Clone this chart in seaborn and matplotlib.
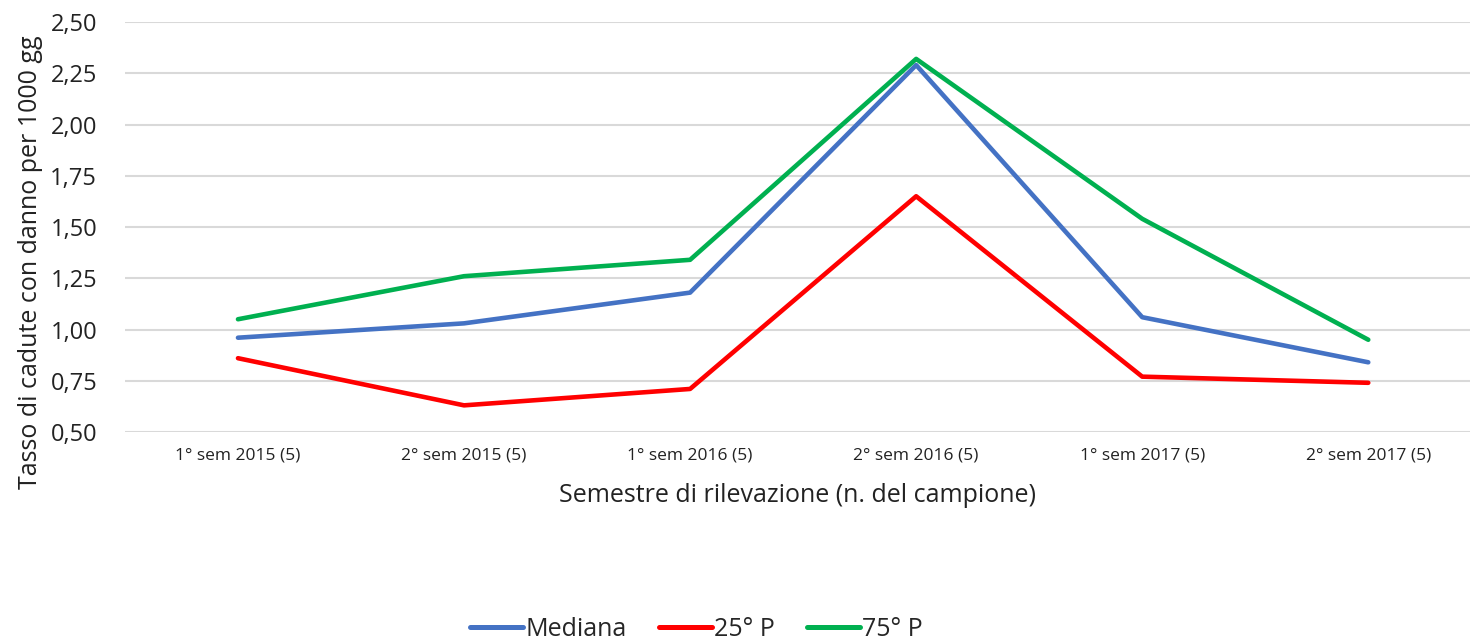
import numpy as np
import pandas as pd
import matplotlib
matplotlib.use("Agg")
from matplotlib import pyplot as plt
from matplotlib.ticker import FuncFormatter
import seaborn as sns

# dati
semestri = ['1° sem 2015 (5)', '2° sem 2015 (5)', '1° sem 2016 (5)',
            '2° sem 2016 (5)', '1° sem 2017 (5)', '2° sem 2017 (5)']
mediana = [0.96, 1.03, 1.18, 2.29, 1.06, 0.84]
p25 = [0.86, 0.63, 0.71, 1.65, 0.77, 0.74]
p75 = [1.05, 1.26, 1.34, 2.32, 1.54, 0.95]

serie = ['Mediana', '25° P', '75° P']
colori = ['#4472C4', '#FF0000', '#00B050']

df = pd.concat([
    pd.DataFrame({'x': np.arange(len(semestri)), 'valore': v, 'serie': nome})
    for nome, v in zip(serie, [mediana, p25, p75])
])

sns.set_style("white")
plt.rcParams['font.family'] = ['Open Sans', 'DejaVu Sans']

fig = plt.figure(figsize=(14.7, 6.4), dpi=100)
ax = fig.add_axes([0.085, 0.325, 0.915, 0.6406])

sns.lineplot(data=df, x='x', y='valore', hue='serie', palette=colori,
             hue_order=serie, linewidth=3.3, ax=ax, legend=False,
             solid_capstyle='round')

ax.set_xlim(-0.5, 5.45)
ax.set_ylim(0.5, 2.5)
ax.set_yticks(np.arange(0.5, 2.51, 0.25))
ax.yaxis.set_major_formatter(FuncFormatter(lambda v, p: f'{v:.2f}'.replace('.', ',')))
ax.set_xticks(np.arange(len(semestri)))
ax.set_xticklabels(semestri, fontsize=12.5, color='#222222')
ax.tick_params(axis='y', labelsize=17, colors='#222222', length=0, pad=20)
ax.tick_params(axis='x', length=0, pad=11)
ax.grid(axis='y', color='#d9d9d9', linewidth=1.5)
ax.set_axisbelow(True)
for s in ax.spines.values():
    s.set_visible(False)

ax.set_xlabel('Semestre di rilevazione (n. del campione)', fontsize=18, color='#222222', labelpad=14)
ax.set_ylabel('Tasso di cadute con danno per 1000 gg', fontsize=18, color='#222222')
ax.yaxis.set_label_coords(-0.061, 0.415)

handles = [plt.Line2D([], [], color=c, linewidth=3.6, solid_capstyle='round') for c in colori]
fig.legend(handles, serie, loc='lower center', bbox_to_anchor=(0.474, -0.038), ncol=3,
           frameon=False, fontsize=18, handlelength=2.1, handletextpad=0.1, columnspacing=1.3)

fig.savefig('out.png', dpi=100)
